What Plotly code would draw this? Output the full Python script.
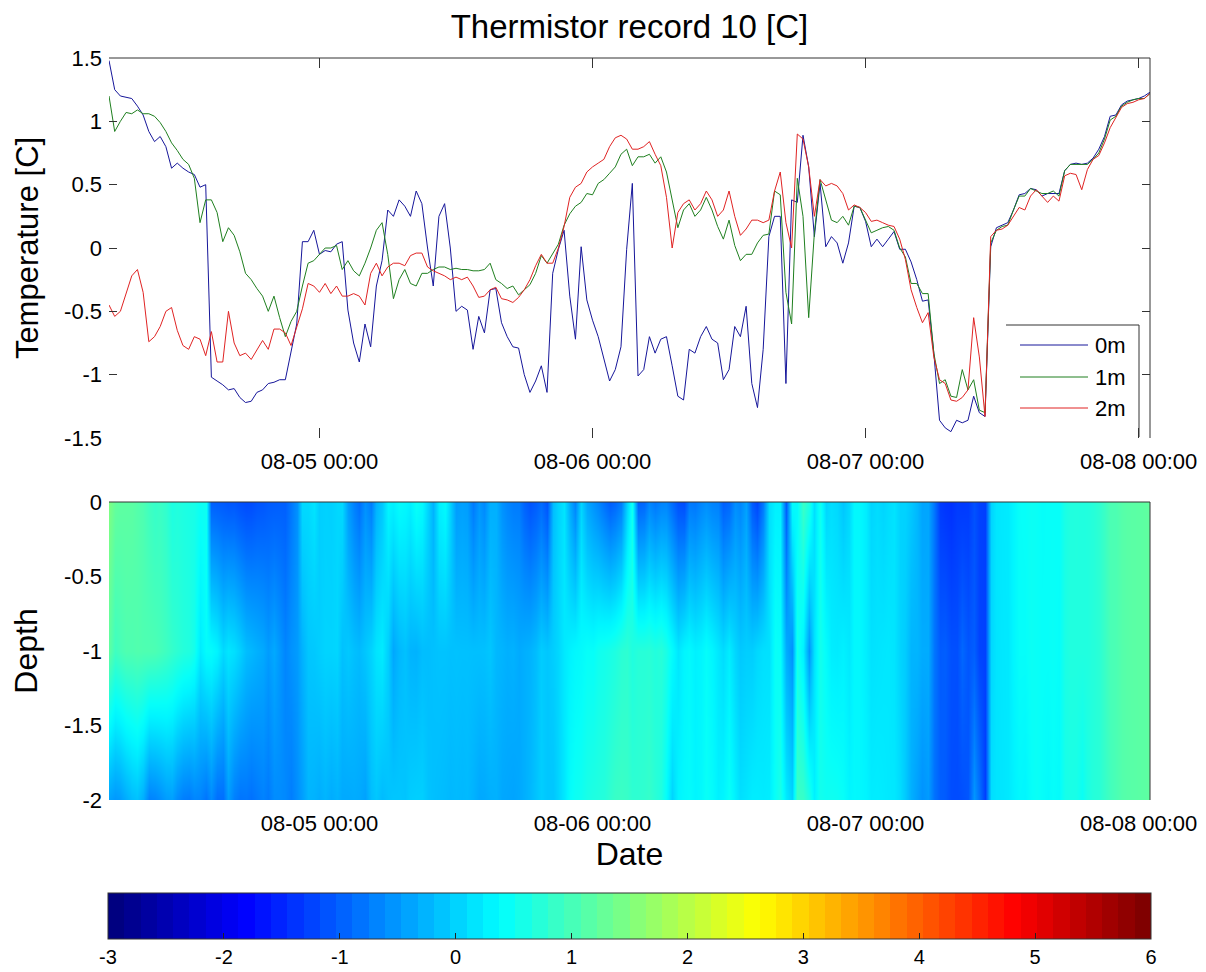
import pandas as pd
import plotly.graph_objects as go

# ---- thermistor record 10: 30-minute samples at three depths ----
start_time = "2013-08-04 05:30"

temp_0m = [
    1.48, 1.25, 1.20, 1.19, 1.18, 1.12, 1.05, 0.92, 0.84, 0.88, 0.80, 0.63, 0.67, 0.63, 0.60, 0.58, 0.48, 0.50,
    -1.02, -1.05, -1.08, -1.12, -1.11, -1.18, -1.22, -1.21, -1.14, -1.12, -1.07, -1.06, -1.04, -1.04, -0.82, -0.60, 0.05, 0.05, 0.14,
    -0.05, -0.02, -0.03, 0.03, 0.05, -0.49, -0.75, -0.90, -0.60, -0.78, -0.30, -0.10, 0.30, 0.25, 0.38, 0.33, 0.25, 0.45, 0.35, 0.00, -0.30, 0.25, 0.35, 0.00,
    -0.50, -0.46, -0.49, -0.80, -0.54, -0.67, -0.33, -0.32, -0.59, -0.70,
    -0.78, -0.79, -1.00, -1.14, -1.05, -0.93, -1.14, -0.20, -0.01, 0.14,
    -0.38, -0.72, 0.01, -0.41, -0.57, -0.70, -0.88, -1.05, -0.96, -0.78,
    -0.01, 0.51, -1.01, -0.96, -0.70, -0.83, -0.72, -0.70, -0.93, -1.17,
    -1.20, -0.80, -0.83, -0.70, -0.62, -0.72, -0.75, -1.04, -0.96, -0.62,
    -0.70, -0.46, -1.07, -1.26, -0.80, 0.09, 0.25, 0.25, -1.07, 0.38,
    0.36, 0.89, 0.64, 0.09, 0.51, 0.01, 0.09, 0.04, -0.12, 0.04,
    0.33, 0.32, 0.21, 0.01, 0.07, 0.01, 0.07, 0.13, -0.01, -0.01,
    -0.11, -0.25, -0.42, -0.41, -0.83, -1.36, -1.42, -1.45, -1.36, -1.38,
    -1.36, -1.17, -1.30, -1.33, 0.01, 0.16, 0.18, 0.20, 0.30, 0.42,
    0.43, 0.47, 0.46, 0.41, 0.43, 0.43, 0.43, 0.61, 0.66, 0.67,
    0.66, 0.67, 0.71, 0.78, 0.88, 1.04, 1.05, 1.13, 1.16, 1.17,
    1.18, 1.20, 1.23,
]

temp_1m = [
    1.20, 0.92, 1.00, 1.07, 1.06, 1.09, 1.06, 1.06, 1.04, 0.99, 0.92, 0.83, 0.77, 0.70, 0.66, 0.55, 0.20, 0.38,
    0.38, 0.28, 0.05, 0.16, 0.10, -0.03, -0.20, -0.25, -0.32, -0.38, -0.50, -0.38, -0.55, -0.70, -0.58, -0.50, -0.30, -0.12, -0.10,
    -0.05, 0.00, 0.00, 0.02, -0.17, -0.10, -0.18, -0.22, -0.12, 0.00, 0.14, 0.20, -0.05, -0.40, -0.25, -0.17, -0.28, -0.30, -0.20, -0.20, -0.17, -0.15, -0.15, -0.17,
    -0.16, -0.17, -0.17, -0.18, -0.18, -0.17, -0.12, -0.25, -0.28, -0.32,
    -0.30, -0.37, -0.33, -0.29, -0.20, -0.06, -0.12, -0.05, 0.03, 0.18,
    0.27, 0.33, 0.36, 0.43, 0.42, 0.51, 0.54, 0.59, 0.64, 0.74,
    0.78, 0.65, 0.72, 0.72, 0.74, 0.67, 0.72, 0.60, 0.38, 0.16,
    0.30, 0.35, 0.25, 0.30, 0.40, 0.30, 0.17, 0.07, 0.22, 0.02,
    -0.10, -0.05, -0.05, 0.04, 0.10, 0.11, 0.45, 0.42, -0.35, -0.60,
    0.55, 0.25, -0.55, 0.12, 0.54, 0.38, 0.22, 0.20, 0.25, 0.18,
    0.33, 0.32, 0.22, 0.12, 0.14, 0.16, 0.17, 0.14, 0.00, -0.07,
    -0.28, -0.28, -0.36, -0.36, -0.83, -1.07, -1.04, -1.17, -1.18, -0.96,
    -1.12, -1.04, -1.28, -1.30, 0.04, 0.14, 0.17, 0.18, 0.30, 0.41,
    0.41, 0.47, 0.45, 0.43, 0.43, 0.45, 0.41, 0.61, 0.66, 0.66,
    0.66, 0.66, 0.70, 0.75, 0.86, 1.01, 1.04, 1.12, 1.15, 1.17,
    1.18, 1.18, 1.22,
]

temp_2m = [
    -0.45, -0.54, -0.50, -0.35, -0.22, -0.17, -0.35, -0.74, -0.70, -0.62, -0.50, -0.47, -0.65, -0.77, -0.80, -0.70, -0.72, -0.85,
    -0.66, -0.90, -0.90, -0.50, -0.75, -0.85, -0.83, -0.88, -0.80, -0.73, -0.80, -0.64, -0.64, -0.67, -0.77, -0.62, -0.48, -0.28, -0.30,
    -0.35, -0.28, -0.36, -0.30, -0.38, -0.38, -0.36, -0.38, -0.45, -0.20, -0.12, -0.22, -0.15, -0.12, -0.12, -0.14, -0.06, -0.04, -0.04, -0.15, -0.18, -0.20, -0.22, -0.25,
    -0.23, -0.25, -0.23, -0.30, -0.39, -0.38, -0.33, -0.31, -0.40, -0.41,
    -0.43, -0.39, -0.33, -0.25, -0.14, -0.05, -0.12, -0.12, 0.00, 0.17,
    0.40, 0.48, 0.51, 0.60, 0.64, 0.67, 0.70, 0.80, 0.87, 0.89,
    0.86, 0.78, 0.78, 0.80, 0.84, 0.74, 0.65, 0.40, 0.00, 0.28,
    0.35, 0.38, 0.30, 0.35, 0.45, 0.38, 0.25, 0.30, 0.45, 0.25,
    0.10, 0.15, 0.22, 0.22, 0.20, 0.22, 0.45, 0.60, 0.20, 0.00,
    0.90, 0.86, 0.64, 0.25, 0.54, 0.49, 0.51, 0.49, 0.43, 0.30,
    0.34, 0.32, 0.28, 0.21, 0.22, 0.20, 0.18, 0.17, 0.07, -0.09,
    -0.33, -0.47, -0.59, -0.51, -0.86, -1.04, -1.07, -1.20, -1.21, -1.18,
    -1.12, -0.55, -0.86, -1.33, 0.09, 0.14, 0.15, 0.18, 0.25, 0.32,
    0.30, 0.41, 0.46, 0.41, 0.36, 0.41, 0.37, 0.57, 0.59, 0.58,
    0.46, 0.62, 0.70, 0.73, 0.83, 0.95, 1.03, 1.11, 1.14, 1.15,
    1.17, 1.18, 1.22,
]

times = pd.date_range(start_time, periods=len(temp_0m), freq="30min")

series_names = ["0m", "1m", "2m"]
depths = [0, -1, -2]
line_colors = ["#16169a", "#1f7f1f", "#e02323"]

temp_ticks = [-1.5, -1, -0.5, 0, 0.5, 1, 1.5]
temp_tick_labels = ["-1.5", "-1", "-0.5", "0", "0.5", "1", "1.5"]
depth_ticks = [0, -0.5, -1, -1.5, -2]
depth_tick_labels = ["0", "-0.5", "-1", "-1.5", "-2"]
cbar_ticks = [-3, -2, -1, 0, 1, 2, 3, 4, 5, 6]
cbar_tick_labels = ["-3", "-2", "-1", "0", "1", "2", "3", "4", "5", "6"]
color_min, color_max = -3, 6


# jet colormap: smooth version for the field, 64-step version for the colour bar
def jet_rgb(t):
    def clip(v):
        return min(max(v, 0.0), 1.0)
    r = clip(1.5 - abs(4 * t - 3))
    g = clip(1.5 - abs(4 * t - 2))
    b = clip(1.5 - abs(4 * t - 1))
    return f"rgb({round(r * 255)},{round(g * 255)},{round(b * 255)})"


n_levels = 64
jet_smooth = [[i / (n_levels - 1), jet_rgb(i / (n_levels - 1))] for i in range(n_levels)]
jet_steps = []
for i in range(n_levels):
    c = jet_rgb(i / (n_levels - 1))
    jet_steps.append([i / n_levels, c])
    jet_steps.append([(i + 1) / n_levels, c])

FONT = "Liberation Sans, Arial, Helvetica, sans-serif"
W, H = 1206, 972

fig = go.Figure()

series = [temp_0m, temp_1m, temp_2m]
for name, vals, col in zip(series_names, series, line_colors):
    fig.add_trace(go.Scatter(
        x=times, y=vals, mode="lines", name=name,
        line=dict(color=col, width=1), showlegend=False,
        xaxis="x", yaxis="y",
    ))

# depth-time temperature field, interpolated between the three sensors
fig.add_trace(go.Heatmap(
    x=times, y=depths, z=series,
    zmin=color_min, zmax=color_max, colorscale=jet_smooth, zsmooth="best",
    xaxis="x2", yaxis="y2", showscale=False,
))

# horizontal colour bar with the stepped colormap
fig.add_trace(go.Scatter(
    x=[None], y=[None], mode="markers", showlegend=False, hoverinfo="skip",
    xaxis="x2", yaxis="y2",
    marker=dict(
        color=[0], cmin=color_min, cmax=color_max, colorscale=jet_steps, showscale=True,
        colorbar=dict(
            orientation="h", x=629.5 / W, xanchor="center",
            y=(H - 934) / H, yanchor="middle",
            len=1043, lenmode="pixels", thickness=46, thicknessmode="pixels",
            xpad=0, ypad=0, outlinecolor="#333", outlinewidth=1,
            tickvals=cbar_ticks, ticktext=cbar_tick_labels,
            ticks="inside", ticklen=6, tickcolor="#222",
            tickfont=dict(family=FONT, size=20, color="black"),
        ),
    ),
))

x_dom = [109 / W, 1150 / W]
x_common = dict(
    domain=x_dom, range=[times[0], times[-1]], automargin=False,
    tick0="2013-08-05", dtick=86400000, tickformat="%m-%d %H:%M",
    showgrid=False, zeroline=False, showline=False,
    tickfont=dict(family=FONT, size=22, color="black"),
)

fig.update_layout(
    width=W, height=H,
    margin=dict(l=0, r=0, t=0, b=0, autoexpand=False),
    paper_bgcolor="white", plot_bgcolor="white",
    font=dict(family=FONT, color="black"),
    title=dict(text="Thermistor record 10 [C]", x=629.5 / W, xanchor="center",
               y=(H - 26) / H, yanchor="middle",
               font=dict(family=FONT, size=33, color="black")),
    xaxis=dict(anchor="y", ticks="inside", ticklen=10, tickcolor="#333",
               mirror="ticks", ticklabelstandoff=8, **x_common),
    yaxis=dict(domain=[(H - 438) / H, (H - 58) / H], anchor="x", automargin=False,
               range=[-1.5, 1.5], tickvals=temp_ticks, ticktext=temp_tick_labels,
               ticks="inside", ticklen=8, tickcolor="#333", mirror="ticks",
               showgrid=False, zeroline=False, showline=False,
               ticklabelstandoff=6,
               tickfont=dict(family=FONT, size=22, color="black"),
               title=dict(text="Temperature [C]", standoff=16,
                          font=dict(family=FONT, size=31, color="black"))),
    xaxis2=dict(anchor="y2", ticks="", ticklabelstandoff=8,
                title=dict(text="Date", standoff=6,
                           font=dict(family=FONT, size=32, color="black")),
                **x_common),
    yaxis2=dict(domain=[(H - 800) / H, (H - 502) / H], anchor="x2", automargin=False,
                range=[-2, 0], tickvals=depth_ticks, ticktext=depth_tick_labels,
                ticks="", showgrid=False, zeroline=False, showline=False,
                ticklabelstandoff=6,
                tickfont=dict(family=FONT, size=22, color="black"),
                title=dict(text="Depth", standoff=16,
                           font=dict(family=FONT, size=32, color="black"))),
    showlegend=False,
)

# open frame: top and right edges of each panel
frame = dict(color="#333", width=1)
for xr, yr in (("x domain", "y domain"), ("x2 domain", "y2 domain")):
    fig.add_shape(type="line", xref=xr, yref=yr, x0=0, x1=1, y0=1, y1=1, line=frame)
    fig.add_shape(type="line", xref=xr, yref=yr, x0=1, x1=1, y0=0, y1=1, line=frame)

# legend key box in the lower-right corner of the temperature panel
box_left, box_right, box_top, box_bottom = 1006, 1139, 325, 437
fig.add_shape(type="line", xref="paper", yref="paper",
              x0=box_left / W, x1=box_right / W, y0=(H - box_top) / H, y1=(H - box_top) / H,
              line=frame)
fig.add_shape(type="line", xref="paper", yref="paper",
              x0=box_right / W, x1=box_right / W, y0=(H - box_top) / H, y1=(H - box_bottom) / H,
              line=frame)
key_rows = [345, 377, 408]
for name, col, row in zip(series_names, line_colors, key_rows):
    fig.add_shape(type="line", xref="paper", yref="paper",
                  x0=1020 / W, x1=1088 / W, y0=(H - row) / H, y1=(H - row) / H,
                  line=dict(color=col, width=1))
    fig.add_annotation(text=name, xref="paper", yref="paper",
                       x=1093 / W, y=(H - row) / H, xanchor="left", yanchor="middle",
                       showarrow=False, font=dict(family=FONT, size=22, color="black"))

fig.write_html("out.html")
